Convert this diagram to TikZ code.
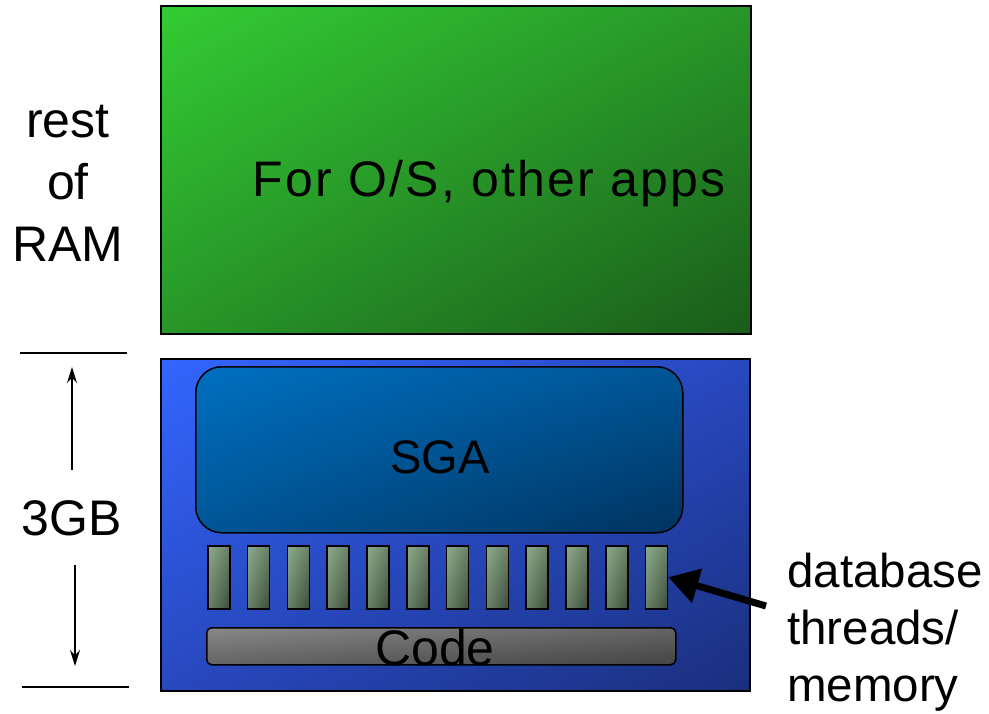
\documentclass[tikz,border=0pt]{standalone}
\usepackage{fontspec}
\setmainfont{Liberation Sans}
\usetikzlibrary{arrows.meta,shadings}
\definecolor{gUL}{RGB}{51,204,51}\definecolor{gM}{RGB}{40,150,40}\definecolor{gLR}{RGB}{26,92,26}
\definecolor{bUL}{RGB}{51,102,255}\definecolor{bM}{RGB}{40,72,190}\definecolor{bLR}{RGB}{26,47,125}
\definecolor{sUL}{RGB}{0,112,192}\definecolor{sM}{RGB}{0,85,150}\definecolor{sLR}{RGB}{0,51,95}
\definecolor{tUL}{RGB}{140,170,138}\definecolor{tM}{RGB}{105,130,103}\definecolor{tLR}{RGB}{60,76,58}
\definecolor{cUL}{RGB}{136,136,136}\definecolor{cM}{RGB}{100,100,100}\definecolor{cLR}{RGB}{68,68,68}
\begin{document}
\begin{tikzpicture}[x=1pt,y=-1pt,
  box/.style={draw=black,line width=1.5pt,rectangle,inner sep=0pt},
  grad/.style n args={3}{upper left=#1,upper right=#2,lower left=#2,lower right=#3},
  big/.style={font=\fontsize{50}{62}\selectfont},
  thin/.style={line width=1.5pt,-{Stealth[length=16pt,width=10pt]}},
  bar/.style={box,minimum width=22pt,minimum height=63pt,grad={tUL}{tM}{tLR}}]
\useasboundingbox (0,0) rectangle (989,713);
% green box
\node[box,minimum width=590pt,minimum height=328pt,anchor=north west,grad={gUL}{gM}{gLR}]
  (green) at (160,5) {};
\node[font=\fontsize{50}{62}\selectfont\addfontfeature{LetterSpace=4.5}] (os) at (489,184) {For O/S, other apps};
\node[big,align=center] (rest) at (68,183) {rest\\of\\RAM};
% blue box
\node[box,minimum width=589pt,minimum height=332pt,anchor=north west,grad={bUL}{bM}{bLR}]
  (blue) at (160,358) {};
% SGA
\node[box,rounded corners=26pt,minimum width=487pt,minimum height=166pt,anchor=north west,grad={sUL}{sM}{sLR}]
  (sga) at (195,366) {};
\node[font=\fontsize{47}{56}\selectfont] (sgat) at (440,457) {SGA};
% threads
\foreach \i in {1,...,12}{
  \node[bar,anchor=north west] (t\i) at ({207+39.8*(\i-1)},545) {};
}
% code
\node[box,rounded corners=5pt,minimum width=469pt,minimum height=37pt,anchor=north west,grad={cUL}{cM}{cLR}]
  (code) at (206,627) {};
\node[big] (codet) at (435,648) {Code};
% label and arrow
\node[font=\fontsize{47.5}{57}\selectfont,align=left,anchor=west,inner sep=0pt] (db) at (787,632) {database\\threads/\\memory};
\coordinate (af) at (766,606);
\draw[line width=7pt,-{Triangle[length=30pt,width=34pt]}] (af) -- (t12.east);
% 3GB dimension
\coordinate (l1a) at (20,353); \coordinate (l1b) at (127,353);
\coordinate (l2a) at (22,687); \coordinate (l2b) at (129,687);
\draw[line width=1.5pt] (l1a) -- (l1b);
\draw[line width=1.5pt] (l2a) -- (l2b);
\node[big] (gb) at (72,518) {3GB};
\coordinate (up) at (72,367);
\coordinate (dn) at (75,666);
\coordinate (gbu) at (72,470);
\coordinate (gbd) at (75,565);
\draw[thin] (gbu) -- (up);
\draw[thin] (gbd) -- (dn);
\end{tikzpicture}
\end{document}
